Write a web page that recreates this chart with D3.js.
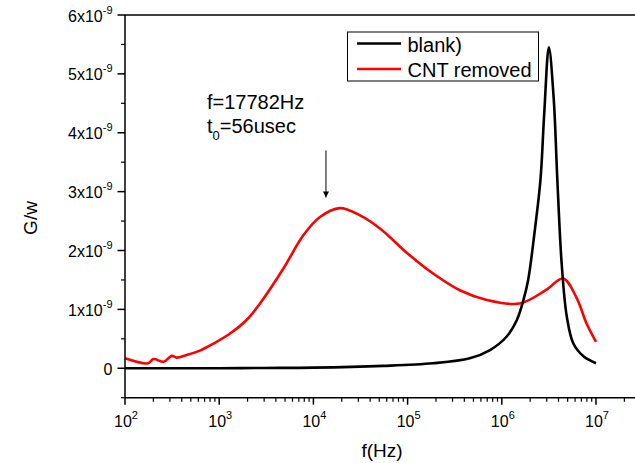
<!DOCTYPE html>
<html>
<head>
<meta charset="utf-8">
<script src="https://cdn.jsdelivr.net/npm/d3@7"></script>
<style>
  body { margin: 0; background: #fff; }
  svg { font-family: "Liberation Sans", Arial, sans-serif; }
</style>
</head>
<body>
<div id="chart"></div>
<script>
// values of G/w are in units of 1e-9
const blankFreq = [100, 300, 1000, 3000, 10000, 55000, 186000, 457000, 750000, 1122000,
  1445000, 1698000, 1905000, 2239000, 2570000, 2820000, 3160000, 3550000,
  3890000, 4320000, 4900000, 5750000, 7410000, 10000000];
const blankVal = [0.0, 0.0, 0.0, 0.005, 0.01, 0.04, 0.085, 0.17, 0.31, 0.535,
  0.82, 1.16, 1.50, 2.34, 3.19, 4.32, 5.45, 4.60,
  3.19, 1.78, 0.875, 0.42, 0.20, 0.085];

const cntFreq = [100, 176, 200, 257, 313, 353, 451, 625, 871, 1303, 1950, 2710, 4786,
  7816, 11749, 19055, 30903, 51286, 100000, 190000, 363078, 691831, 1550000,
  2950000, 4470000, 6170000, 7940000, 10000000];
const cntVal = [0.17, 0.085, 0.157, 0.11, 0.21, 0.18, 0.225, 0.30, 0.42, 0.59, 0.82, 1.10, 1.69,
  2.26, 2.57, 2.72, 2.60, 2.37, 1.95, 1.60, 1.32, 1.16, 1.10,
  1.33, 1.525, 1.21, 0.76, 0.45];

const seriesNames = ["blank)", "CNT removed"];
const seriesColors = ["#000000", "#ff0000"];
const yMajorTicks = [0, 1, 2, 3, 4, 5, 6];
const xDecades = [2, 3, 4, 5, 6, 7];

const width = 635, height = 463;
const mLeft = 125, mTop = 15, mBottom = 397.7;
const decadePx = 94.2;

const x = d3.scaleLog()
  .domain([1e2, 3e7])
  .range([mLeft, mLeft + decadePx * Math.log10(3e7 / 1e2)]);
const y = d3.scaleLinear().domain([-0.5, 6]).range([mBottom, mTop]);

const svg = d3.select("#chart").append("svg")
  .attr("width", width).attr("height", height);

// curves
const line = d3.line()
  .x(d => x(d[0]))
  .y(d => y(d[1]))
  .curve(d3.curveCatmullRom.alpha(0.5));

const series = [
  d3.zip(blankFreq, blankVal),
  d3.zip(cntFreq, cntVal)
];

svg.append("g").selectAll("path")
  .data([1, 0])
  .join("path")
  .attr("d", i => line(series[i]))
  .attr("fill", "none")
  .attr("stroke", i => seriesColors[i])
  .attr("stroke-width", 2.6)
  .attr("stroke-linejoin", "round");

// frame (top line, no right axis visible)
svg.append("line")
  .attr("x1", mLeft).attr("x2", width).attr("y1", mTop).attr("y2", mTop)
  .attr("stroke", "#000").attr("stroke-width", 1.5);

// x axis
const minorX = [];
for (let e = 2; e <= 7; e++) {
  for (let k = 2; k <= 9; k++) {
    const v = k * Math.pow(10, e);
    if (v <= 3e7) minorX.push(v);
  }
}
const xAxis = svg.append("g").attr("transform", `translate(0,${mBottom})`);
xAxis.append("line")
  .attr("x1", mLeft).attr("x2", width).attr("stroke", "#000").attr("stroke-width", 1.5);
xAxis.selectAll(".maj").data(xDecades).join("line").attr("class", "maj")
  .attr("x1", d => x(Math.pow(10, d))).attr("x2", d => x(Math.pow(10, d)))
  .attr("y1", 0).attr("y2", 7).attr("stroke", "#000").attr("stroke-width", 1.5);
xAxis.selectAll(".min").data(minorX).join("line").attr("class", "min")
  .attr("x1", d => x(d)).attr("x2", d => x(d))
  .attr("y1", 0).attr("y2", 4).attr("stroke", "#000").attr("stroke-width", 1.2);
const xl = xAxis.selectAll("text").data(xDecades).join("text")
  .attr("x", d => x(Math.pow(10, d)) + 1)
  .attr("y", 29.5)
  .attr("text-anchor", "middle")
  .attr("font-size", 16);
xl.append("tspan").text("10");
xl.append("tspan").attr("dy", -8).attr("font-size", 11).text(d => d);

// y axis
const minorY = d3.range(-0.5, 6, 1);
const yAxis = svg.append("g");
yAxis.append("line")
  .attr("x1", mLeft).attr("x2", mLeft).attr("y1", mTop).attr("y2", mBottom)
  .attr("stroke", "#000").attr("stroke-width", 1.5);
yAxis.selectAll(".maj").data(yMajorTicks).join("line").attr("class", "maj")
  .attr("x1", mLeft - 7.5).attr("x2", mLeft)
  .attr("y1", d => y(d)).attr("y2", d => y(d))
  .attr("stroke", "#000").attr("stroke-width", 1.5);
yAxis.selectAll(".min").data(minorY).join("line").attr("class", "min")
  .attr("x1", mLeft - 4).attr("x2", mLeft)
  .attr("y1", d => y(d)).attr("y2", d => y(d))
  .attr("stroke", "#000").attr("stroke-width", 1.2);
const yl = yAxis.selectAll("text").data(yMajorTicks).join("text")
  .attr("x", 112.5)
  .attr("y", d => y(d) + 6.5)
  .attr("text-anchor", "end")
  .attr("font-size", 16);
yl.each(function (d) {
  const t = d3.select(this);
  if (d === 0) { t.text("0"); return; }
  t.append("tspan").text(d + "x10");
  t.append("tspan").attr("dy", -8).attr("font-size", 11).text("-9");
});

// axis titles
svg.append("text")
  .attr("transform", "translate(37,218) rotate(-90)")
  .attr("text-anchor", "middle")
  .attr("font-size", 19)
  .text("G/w");
svg.append("text")
  .attr("x", 382).attr("y", 457)
  .attr("text-anchor", "middle")
  .attr("font-size", 19)
  .text("f(Hz)");

// annotation
svg.append("text")
  .attr("x", 207).attr("y", 109)
  .attr("font-size", 20)
  .text("f=17782Hz");
const t0 = svg.append("text")
  .attr("x", 207).attr("y", 133)
  .attr("font-size", 20);
t0.append("tspan").text("t");
t0.append("tspan").attr("dy", 7).attr("font-size", 13).text("0");
t0.append("tspan").attr("dy", -7).text("=56usec");

svg.append("defs").append("marker")
  .attr("id", "arrow")
  .attr("viewBox", "0 0 10 10")
  .attr("refX", 10).attr("refY", 5)
  .attr("markerWidth", 8).attr("markerHeight", 6)
  .attr("markerUnits", "userSpaceOnUse")
  .attr("orient", "auto")
  .append("path").attr("d", "M0,0 L10,5 L0,10 Z").attr("fill", "#000");
svg.append("line")
  .attr("x1", x(13600)).attr("x2", x(13600))
  .attr("y1", y(3.70)).attr("y2", y(2.90))
  .attr("stroke", "#000").attr("stroke-width", 1)
  .attr("marker-end", "url(#arrow)");

// legend
const legend = svg.append("g");
legend.append("rect")
  .attr("x", 347.5).attr("y", 32).attr("width", 191).attr("height", 49)
  .attr("fill", "#fff").attr("stroke", "#000").attr("stroke-width", 1);
seriesNames.forEach((name, i) => {
  const ly = 43.5 + i * 25.5;
  legend.append("line")
    .attr("x1", 357).attr("x2", 401).attr("y1", ly).attr("y2", ly)
    .attr("stroke", seriesColors[i]).attr("stroke-width", 2.6);
  legend.append("text")
    .attr("x", 407.5).attr("y", ly + 8)
    .attr("font-size", 20)
    .text(name);
});
</script>
</body>
</html>
